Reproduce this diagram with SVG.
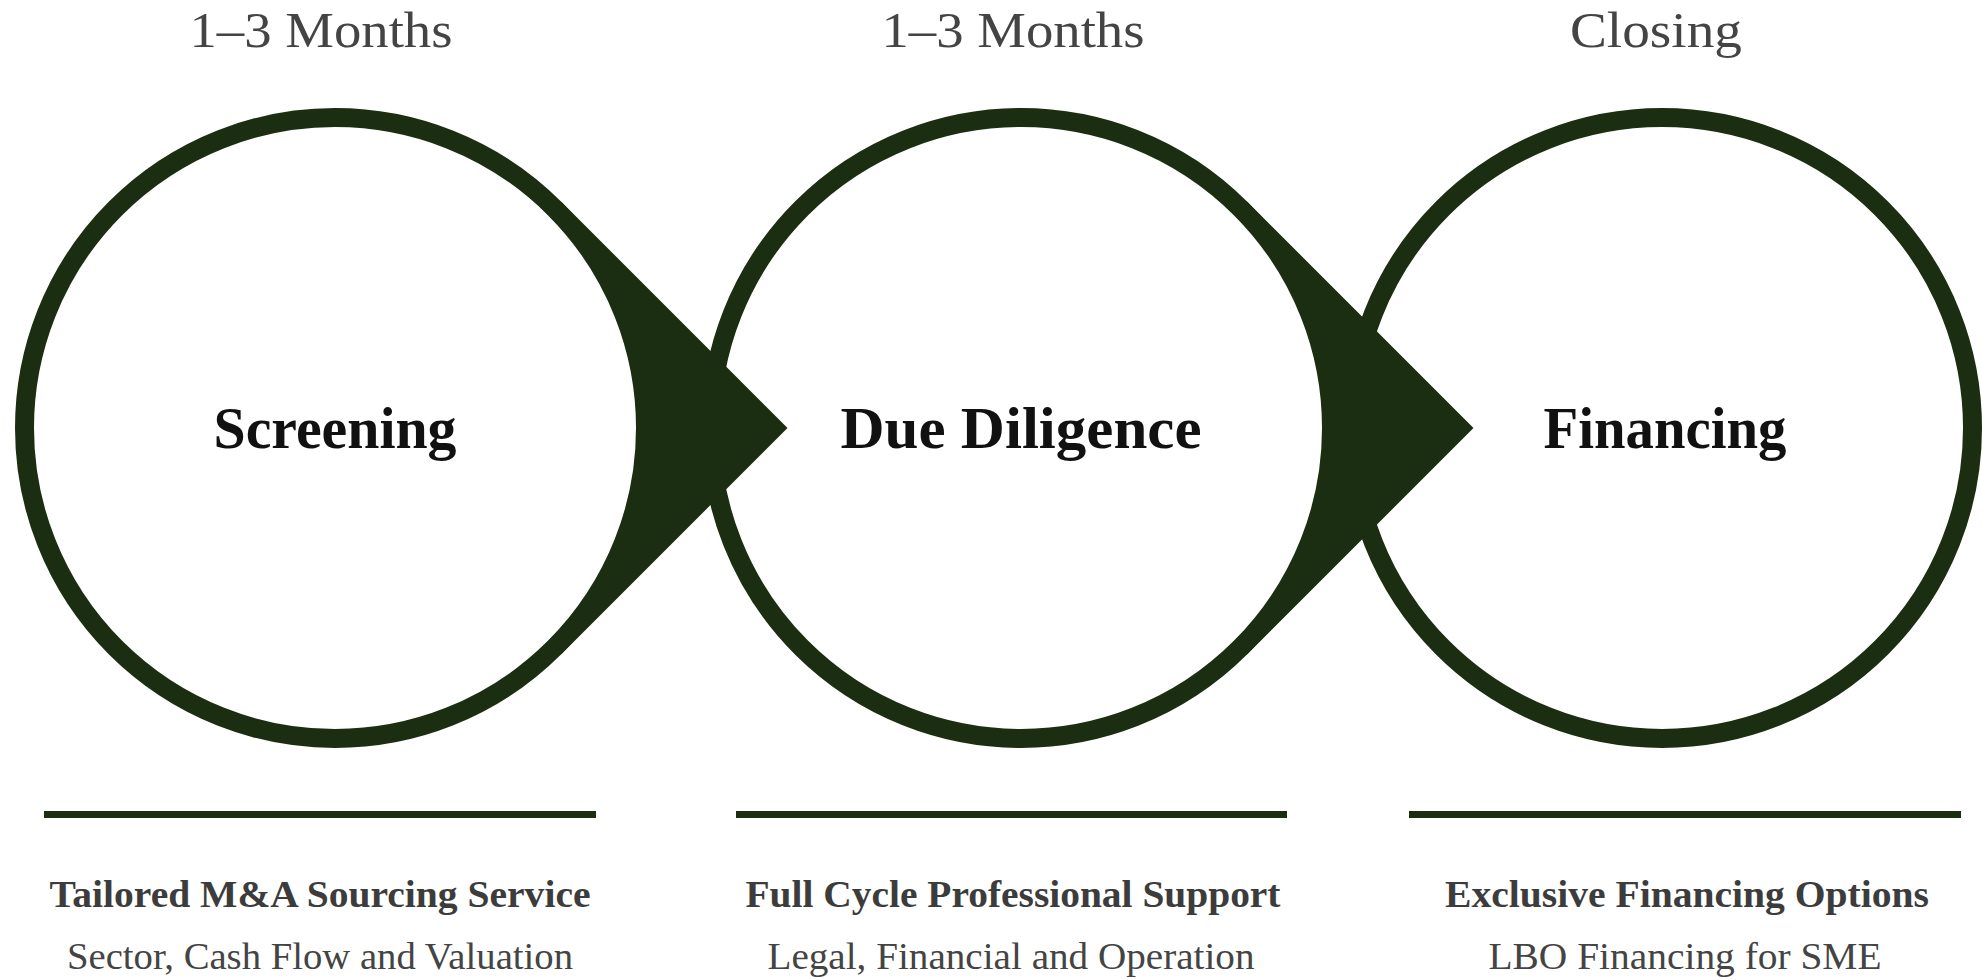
<svg xmlns="http://www.w3.org/2000/svg" width="1982" height="980" viewBox="0 0 1982 980">
<style>
.ring{fill:#ffffff;stroke:#1c2e11;stroke-width:19}
.arrow{fill:#1c2e11;stroke:none}
.rule{fill:#1c2e11}
.phase{font-family:"Liberation Serif",serif;font-size:50px;fill:#444444;text-anchor:middle}
.name{font-family:"Liberation Serif",serif;font-size:60px;font-weight:bold;fill:#111111;text-anchor:middle}
.sub1{font-family:"Liberation Serif",serif;font-size:38px;font-weight:bold;fill:#3c3c3c;text-anchor:middle}
.sub2{font-family:"Liberation Serif",serif;font-size:38px;fill:#444444;text-anchor:middle}
</style>
<rect x="0" y="0" width="1982" height="980" fill="#ffffff"/>
<g id="screening">
<text class="phase" x="321" y="47" textLength="263" lengthAdjust="spacingAndGlyphs">1–3 Months</text>
<circle class="ring" cx="335" cy="428" r="310.5"/>
<text class="name" x="335" y="448" textLength="243" lengthAdjust="spacingAndGlyphs">Screening</text>
<rect class="rule" x="44" y="811" width="552" height="7"/>
<text class="sub1" x="320" y="907" textLength="541" lengthAdjust="spacingAndGlyphs">Tailored M&amp;A Sourcing Service</text>
<text class="sub2" x="320" y="969" textLength="506" lengthAdjust="spacingAndGlyphs">Sector, Cash Flow and Valuation</text>
</g>
<g id="due-diligence">
<text class="phase" x="1013" y="47" textLength="263" lengthAdjust="spacingAndGlyphs">1–3 Months</text>
<circle class="ring" cx="1021" cy="428" r="310.5"/>
<text class="name" x="1021" y="448" textLength="361" lengthAdjust="spacingAndGlyphs">Due Diligence</text>
<rect class="rule" x="736" y="811" width="551" height="7"/>
<text class="sub1" x="1013" y="907" textLength="535" lengthAdjust="spacingAndGlyphs">Full Cycle Professional Support</text>
<text class="sub2" x="1011" y="969" textLength="487" lengthAdjust="spacingAndGlyphs">Legal, Financial and Operation</text>
</g>
<g id="financing">
<text class="phase" x="1656" y="47" textLength="172" lengthAdjust="spacingAndGlyphs">Closing</text>
<circle class="ring" cx="1662" cy="428" r="310.5"/>
<text class="name" x="1665" y="448" textLength="243" lengthAdjust="spacingAndGlyphs">Financing</text>
<rect class="rule" x="1409" y="811" width="552" height="7"/>
<text class="sub1" x="1687" y="907" textLength="484" lengthAdjust="spacingAndGlyphs">Exclusive Financing Options</text>
<text class="sub2" x="1685" y="969" textLength="393" lengthAdjust="spacingAndGlyphs">LBO Financing for SME</text>
</g>
<g id="connectors">
<path class="arrow" d="M 561.27 201.73 L 787.5 428 L 561.27 654.27 L 554.2 647.2 A 310 310 0 0 0 554.2 208.8 Z"/>
<path class="arrow" d="M 1247.27 201.73 L 1473.5 428 L 1247.27 654.27 L 1240.2 647.2 A 310 310 0 0 0 1240.2 208.8 Z"/>
</g>
</svg>
